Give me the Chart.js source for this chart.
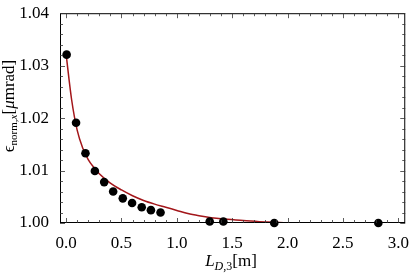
<!DOCTYPE html>
<html>
<head>
<meta charset="utf-8">
<script src="https://cdn.jsdelivr.net/npm/chart.js@4.4.1/dist/chart.umd.min.js"></script>
<style>
  html, body { margin: 0; padding: 0; background: #fff; }
  #wrap { width: 411px; height: 273px; }
</style>
</head>
<body>
<div id="wrap"><canvas id="c" width="411" height="273"></canvas></div>
<script>
// measured points
const ptX = [0.005, 0.09, 0.175, 0.26, 0.344, 0.425, 0.512, 0.596, 0.683, 0.766, 0.853, 1.297, 1.42, 1.88, 2.82];
const ptY = [1.0321, 1.0191, 1.0133, 1.0099, 1.0078, 1.0060, 1.0047, 1.0038, 1.0030, 1.00245, 1.0020, 1.0003, 1.0003, 1.0000, 1.0000];

// fitted curve
const fitX = [0.0, 0.05, 0.1, 0.15, 0.2, 0.25, 0.3, 0.4, 0.5, 0.6, 0.7, 0.8, 0.9, 1.0, 1.1, 1.2, 1.4, 1.6, 1.8, 2.0, 2.4, 2.83];
const fitY = [1.0322, 1.0235, 1.0177, 1.0143, 1.0121, 1.0106, 1.0094, 1.0076, 1.0063, 1.0052, 1.0043, 1.0036, 1.0030, 1.0024, 1.0018, 1.0014, 1.0008, 1.0005, 1.0002, 1.0000, 0.99995, 0.99995];

const xTicks = [0.0, 0.5, 1.0, 1.5, 2.0, 2.5, 3.0];
const yTicks = [1.00, 1.01, 1.02, 1.03, 1.04];

const SERIF = '"Liberation Serif", "DejaVu Serif", serif';

function rangeSteps(a, b, s) {
    const out = [];
    for (let v = a; v <= b + 1e-9; v += s) out.push(Math.round(v * 10000) / 10000);
    return out;
}

const frame = {
    id: 'frame',
    afterDraw(chart) {
        const { ctx, chartArea: a, scales } = chart;
        const xs = scales.x, ys = scales.y;
        ctx.save();
        ctx.strokeStyle = '#000';
        ctx.lineWidth = 1;
        ctx.strokeRect(a.left + 0.5, a.top + 0.5, a.right - a.left - 1, a.bottom - a.top - 1);
        ctx.lineWidth = 0.8;
        ctx.strokeStyle = '#333';
        ctx.beginPath();
        rangeSteps(0, 3.0, 0.1).forEach((v, i) => {
            const px = Math.round(xs.getPixelForValue(v)) + 0.5;
            const len = (i % 5 === 0) ? 5 : 3;
            ctx.moveTo(px, a.bottom); ctx.lineTo(px, a.bottom - len);
            ctx.moveTo(px, a.top); ctx.lineTo(px, a.top + len);
        });
        rangeSteps(1.00, 1.04, 0.002).forEach((v, i) => {
            const py = Math.round(ys.getPixelForValue(v)) + 0.5;
            const len = (i % 5 === 0) ? 5 : 3;
            ctx.moveTo(a.left, py); ctx.lineTo(a.left + len, py);
            ctx.moveTo(a.right, py); ctx.lineTo(a.right - len, py);
        });
        ctx.stroke();

        // axis titles with subscripts
        ctx.fillStyle = '#000';
        ctx.textBaseline = 'alphabetic';
        const parts = (list) => list.map(p => {
            ctx.font = p.f;
            return Object.assign({ w: ctx.measureText(p.t).width }, p);
        });
        const drawParts = (list, x0, y0) => {
            let x = x0;
            list.forEach(p => {
                ctx.font = p.f;
                ctx.fillText(p.t, x, y0 + (p.dy || 0));
                x += p.w;
            });
        };
        const xt = parts([
            { t: 'L', f: 'italic 17px ' + SERIF },
            { t: 'D', f: 'italic 12px ' + SERIF, dy: 4 },
            { t: ',3', f: '12px ' + SERIF, dy: 4 },
            { t: '[m]', f: '17px ' + SERIF }
        ]);
        const xw = xt.reduce((s, p) => s + p.w, 0);
        drawParts(xt, 231 - xw / 2, 266);

        const yt = parts([
            { t: 'ϵ', f: '17px ' + SERIF },
            { t: 'norm,', f: '11px ' + SERIF, dy: 3 },
            { t: 'x', f: 'italic 11px ' + SERIF, dy: 3 },
            { t: '[', f: '17px ' + SERIF },
            { t: 'μ', f: 'italic 17px ' + SERIF },
            { t: 'mrad]', f: '17px ' + SERIF }
        ]);
        const yw = yt.reduce((s, p) => s + p.w, 0);
        ctx.translate(14, 106);
        ctx.rotate(-Math.PI / 2);
        drawParts(yt, -yw / 2, 0);
        ctx.restore();
    }
};

new Chart(document.getElementById('c'), {
    type: 'scatter',
    data: {
        datasets: [
            {
                label: 'fit',
                data: fitX.map((x, i) => ({ x: x, y: fitY[i] })),
                showLine: true,
                borderColor: '#a3161a',
                borderWidth: 1.5,
                pointRadius: 0,
                cubicInterpolationMode: 'monotone',
                order: 2
            },
            {
                label: 'data',
                data: ptX.map((x, i) => ({ x: x, y: ptY[i] })),
                backgroundColor: '#000',
                borderColor: '#000',
                pointRadius: 4.3,
                borderWidth: 0,
                clip: false,
                order: 1
            }
        ]
    },
    options: {
        responsive: false,
        animation: false,
        events: [],
        layout: { padding: { top: 11, right: 5, left: 0, bottom: 0 } },
        plugins: { legend: { display: false }, tooltip: { enabled: false } },
        scales: {
            x: {
                type: 'linear',
                min: -0.055,
                max: 3.063,
                grid: { display: false },
                border: { display: false },
                afterBuildTicks: (s) => { s.ticks = xTicks.map(v => ({ value: v })); },
                afterFit: (s) => { s.height = 50; },
                ticks: {
                    padding: 2,
                    color: '#000',
                    font: { family: SERIF, size: 17 },
                    maxRotation: 0,
                    callback: (v) => Number(v).toFixed(1)
                }
            },
            y: {
                type: 'linear',
                min: 1.0,
                max: 1.04,
                grid: { display: false },
                border: { display: false },
                afterBuildTicks: (s) => { s.ticks = yTicks.map(v => ({ value: v })); },
                afterFit: (s) => { s.width = 60; },
                ticks: {
                    padding: 3,
                    color: '#000',
                    font: { family: SERIF, size: 17 },
                    callback: (v) => Number(v).toFixed(2)
                }
            }
        }
    },
    plugins: [frame]
});
</script>
</body>
</html>
